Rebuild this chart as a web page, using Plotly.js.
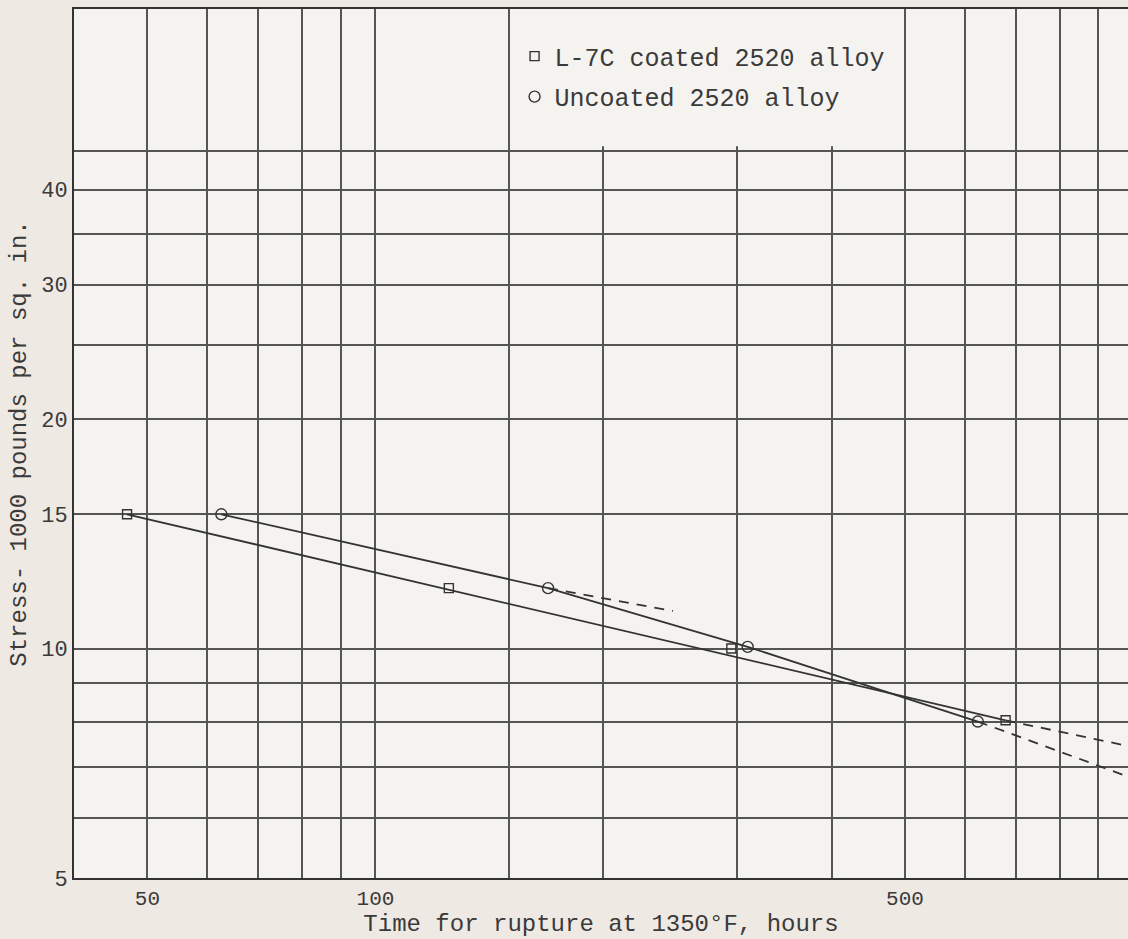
<!DOCTYPE html>
<html>
<head>
<meta charset="utf-8">
<script src="https://cdn.plot.ly/plotly-3.0.1.min.js"></script>
<style>
  html, body { margin: 0; padding: 0; background: #efe9e3; }
  #chart { width: 1128px; height: 939px; }
</style>
</head>
<body>
<div id="chart"></div>
<script>
// ---- Data (time in hours, stress in 1000 psi) ----
const coatedName = "L-7C coated 2520 alloy";
const uncoatedName = "Uncoated 2520 alloy";

const coatedTime = [47, 125, 295, 679];
const coatedStress = [15, 12, 10, 8.05];

const uncoatedTime = [62.6, 169, 310, 624];
const uncoatedStress = [15, 12, 10.05, 8.02];

// faired curves drawn on the original
const coatedFitTime = [47, 679];
const coatedFitStress = [15, 8.05];
const coatedExtTime = [679, 985];
const coatedExtStress = [8.05, 7.45];

const uncoatedFitTime = [62.6, 169, 310, 624];
const uncoatedFitStress = [15, 12, 10.05, 8.02];
const uncoatedExtTime = [624, 985];
const uncoatedExtStress = [8.02, 6.79];
const uncoatedAltTime = [169, 247];
const uncoatedAltStress = [12, 11.2];

// ---- Axis ticks / grid of the log paper ----
const xGrid = [40, 50, 60, 70, 80, 90, 100, 150, 200, 300, 400, 500, 600, 700, 800, 900];
const xLabels = ["", "50", "", "", "", "", "100", "", "", "", "", "500", "", "", "", ""];
const yGrid = [5, 6, 7, 8, 9, 10, 15, 20, 25, 30, 35, 40, 45];
const yLabels = ["5", "", "", "", "", "10", "15", "20", "", "30", "", "40", ""];

const xRange = [40, 985];
const yRange = [5, 69];
const legendBlankX = [152, 494];
const legendBlankY = [45.6, 69];

const ink = "#333333";
const textInk = "#3a3a3a";
const font = "'Courier New', 'Liberation Mono', 'DejaVu Sans Mono', monospace";

const traces = [
  { x: coatedFitTime, y: coatedFitStress, mode: "lines", showlegend: false, hoverinfo: "skip",
    line: { color: ink, width: 1.8 } },
  { x: coatedExtTime, y: coatedExtStress, mode: "lines", showlegend: false, hoverinfo: "skip",
    line: { color: ink, width: 1.8, dash: "10px,8px" } },
  { x: uncoatedFitTime, y: uncoatedFitStress, mode: "lines", showlegend: false, hoverinfo: "skip",
    line: { color: ink, width: 1.8 } },
  { x: uncoatedExtTime, y: uncoatedExtStress, mode: "lines", showlegend: false, hoverinfo: "skip",
    line: { color: ink, width: 1.8, dash: "10px,8px" } },
  { x: uncoatedAltTime, y: uncoatedAltStress, mode: "lines", showlegend: false, hoverinfo: "skip",
    line: { color: ink, width: 1.8, dash: "10px,8px" } },
  { x: coatedTime, y: coatedStress, mode: "markers", name: coatedName, legendgroup: "a",
    marker: { symbol: "square-open", size: 9, color: ink, line: { width: 1.4, color: ink } } },
  { x: uncoatedTime, y: uncoatedStress, mode: "markers", name: uncoatedName, legendgroup: "b",
    marker: { symbol: "circle-open", size: 11, color: ink, line: { width: 1.4, color: ink } } }
];

const layout = {
  width: 1128, height: 939,
  margin: { l: 74, r: 0, t: 9, b: 61 },
  paper_bgcolor: "#efe9e3",
  plot_bgcolor: "#f5f3ef",
  font: { family: font, color: textInk, size: 22 },
  showlegend: true,
  legend: {
    x: 0.418, xanchor: "left", y: 0.972, yanchor: "top",
    bgcolor: "rgba(0,0,0,0)", borderwidth: 0,
    traceorder: "grouped", tracegroupgap: 5,
    font: { family: font, size: 25, color: textInk }
  },
  xaxis: {
    type: "log",
    range: [Math.log10(xRange[0]), Math.log10(xRange[1])],
    tickmode: "array", tickvals: xGrid, ticktext: xLabels,
    showgrid: true, gridcolor: "#555555", gridwidth: 2,
    showline: true, linecolor: "#333", linewidth: 2, mirror: true,
    ticks: "", zeroline: false,
    tickfont: { family: font, size: 21, color: textInk },
    title: { text: "Time for rupture at 1350°F, hours", standoff: 4,
             font: { family: font, size: 24, color: textInk } }
  },
  yaxis: {
    type: "log",
    range: [Math.log10(yRange[0]), Math.log10(yRange[1])],
    tickmode: "array", tickvals: yGrid, ticktext: yLabels,
    showgrid: true, gridcolor: "#555555", gridwidth: 2,
    showline: true, linecolor: "#333", linewidth: 2, mirror: false,
    ticks: "", zeroline: false,
    tickfont: { family: font, size: 22, color: textInk },
    title: { text: "Stress- 1000 pounds per sq. in.", standoff: 8,
             font: { family: font, size: 24, color: textInk } }
  },
  shapes: [
    { type: "rect", xref: "x", yref: "y", layer: "between",
      x0: legendBlankX[0], x1: legendBlankX[1], y0: legendBlankY[0], y1: legendBlankY[1],
      fillcolor: "#f5f3ef", line: { width: 0 } }
  ]
};

Plotly.newPlot("chart", traces, layout, { staticPlot: true, displayModeBar: false });
</script>
</body>
</html>
